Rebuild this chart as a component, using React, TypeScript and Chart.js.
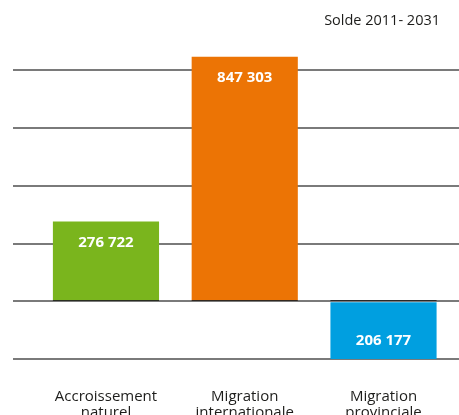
import React, { useEffect, useRef } from "react";
import { Chart, registerables } from "chart.js";

Chart.register(...registerables);

const categories: string[][] = [
  ["Accroissement", "naturel"],
  ["Migration", "internationale"],
  ["Migration", "provinciale"],
];
const values: number[] = [276722, 847303, -206177];
const gridValues: number[] = [-200000, 0, 200000, 400000, 600000, 800000];
const barColors: string[] = ["#7AB51D", "#EC7405", "#009FE0"];
const titleText = "Solde 2011- 2031";
const FONT = "'Open Sans', 'Noto Sans', sans-serif";
const GRID_COLOR = "#7a7a7a";

const formatValue = (v: number) =>
  Math.abs(v).toString().replace(/\B(?=(\d{3})+(?!\d))/g, " ");

const valueLabels = {
  id: "valueLabels",
  afterDatasetsDraw(chart: any) {
    const ctx = chart.ctx;
    const y0 = chart.scales.y.getPixelForValue(0);
    const yy = Math.round(y0 - 1) + 0.5;
    const meta = chart.getDatasetMeta(0);

    ctx.save();
    ctx.globalCompositeOperation = "multiply";
    ctx.strokeStyle = "#555555";
    ctx.lineWidth = 1;
    meta.data.forEach((bar: any) => {
      const w = bar.width;
      ctx.beginPath();
      ctx.moveTo(bar.x - w / 2, yy);
      ctx.lineTo(bar.x + w / 2, yy);
      ctx.stroke();
    });
    ctx.restore();

    ctx.save();
    ctx.fillStyle = "#ffffff";
    ctx.font = `bold 15px ${FONT}`;
    ctx.textAlign = "center";
    ctx.textBaseline = "middle";
    meta.data.forEach((bar: any, i: number) => {
      const v = values[i];
      const y = v >= 0 ? bar.y + 21 : bar.y - 20;
      ctx.fillText(formatValue(v), bar.x, y);
    });
    ctx.restore();
  },
};

export default function App() {
  const ref = useRef<HTMLCanvasElement>(null);
  useEffect(() => {
    if (!ref.current) return;
    const chart = new Chart(ref.current, {
      type: "bar",
      data: {
        datasets: [
          {
            data: values.map((v, i) => ({ x: i, y: v })),
            backgroundColor: barColors,
            borderWidth: 0,
            barPercentage: 0.765,
            categoryPercentage: 1,
          },
        ],
      },
      options: {
        animation: false,
        responsive: true,
        maintainAspectRatio: false,
        layout: { padding: { left: 13, right: 0, top: 56, bottom: 0 } },
        plugins: {
          legend: { display: false },
          tooltip: { enabled: false },
          title: { display: false },
        },
        scales: {
          x: {
            type: "linear",
            offset: false,
            min: -0.67,
            max: 2.544,
            grid: { display: false, drawTicks: false },
            border: { display: false },
            afterBuildTicks: (s: any) => {
              s.ticks = categories.map((_, i) => ({ value: i }));
            },
            afterFit: (s: any) => {
              s.height = 56;
            },
            ticks: {
              autoSkip: false,
              maxRotation: 0,
              padding: 29,
              color: "#1d1d1b",
              font: { family: FONT, size: 15, lineHeight: 1.1 },
              callback: (v: any) => {
                const idx = Number(v);
                return Number.isInteger(idx) && categories[idx] ? categories[idx] : "";
              },
            },
          },
          y: {
            min: -200000,
            max: 850000,
            border: { display: false },
            grid: { color: GRID_COLOR, lineWidth: 2, drawTicks: false },
            afterBuildTicks: (s: any) => {
              s.ticks = gridValues.map((v) => ({ value: v }));
            },
            ticks: { display: false },
          },
        },
      },
      plugins: [valueLabels],
    } as any);
    return () => chart.destroy();
  }, []);

  return (
    <div style={{ position: "fixed", left: 0, top: 0, width: 459, height: 415 }}>
      <div
        style={{
          position: "absolute",
          right: 19,
          top: 10,
          fontFamily: FONT,
          fontSize: 14.5,
          color: "#1d1d1b",
          whiteSpace: "nowrap",
        }}
      >
        {titleText}
      </div>
      <canvas ref={ref} />
    </div>
  );
}
